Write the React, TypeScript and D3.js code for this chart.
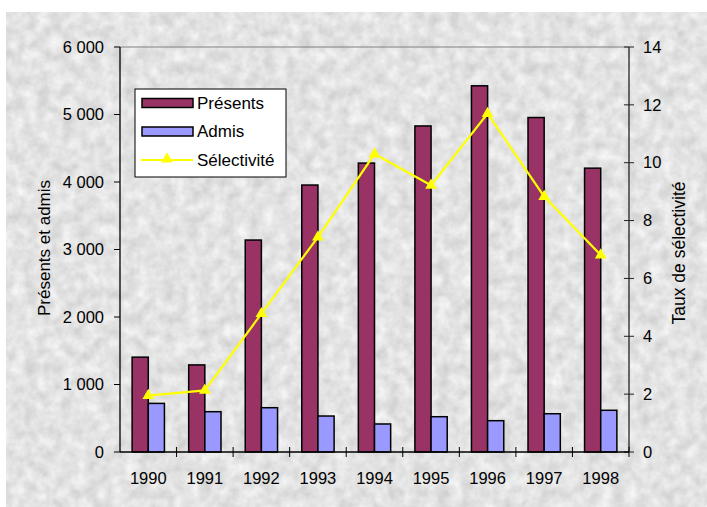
import React from "react";
import * as d3 from "d3";

const years = ["1990", "1991", "1992", "1993", "1994", "1995", "1996", "1997", "1998"];
const presents = [1405, 1290, 3140, 3955, 4280, 4830, 5425, 4955, 4205];
const admis = [720, 597, 656, 533, 415, 523, 464, 567, 618];
const selectivite = [1.95, 2.13, 4.78, 7.43, 10.3, 9.22, 11.7, 8.83, 6.81];
const leftTicks = [0, 1000, 2000, 3000, 4000, 5000, 6000];
const rightTicks = [0, 2, 4, 6, 8, 10, 12, 14];

const W = 707;
const H = 507;
const L = 120;
const R = 629;
const T = 47;
const B = 452;
const FONT = "'Liberation Sans', Arial, sans-serif";
const FS = 16.5;

export default function App() {
  const x = d3.scaleBand<string>().domain(years).range([L, R]).paddingInner(0).paddingOuter(0);
  const y = d3.scaleLinear().domain([0, 6000]).range([B, T]);
  const y2 = d3.scaleLinear().domain([0, 14]).range([B, T]);
  const bw = x.bandwidth();
  const barW = bw / 3.5;
  const off = (bw - 2 * barW) / 2;
  const fmt = (v: number) => d3.format(",")(v).replace(/,/g, " ");
  const line = d3
    .line<number>()
    .x((_, i) => (x(years[i]) as number) + bw / 2)
    .y((d) => y2(d));
  const tri = d3.symbol().type(d3.symbolTriangle).size(60);

  return (
    <svg width={W} height={H} style={{ position: "absolute", left: 0, top: 0 }}>
      <defs>
        <filter id="tex" x="0" y="0" width="100%" height="100%" colorInterpolationFilters="sRGB">
          <feTurbulence type="fractalNoise" baseFrequency="0.08" numOctaves={3} seed={4} />
          <feColorMatrix
            type="matrix"
            values="0.2 0 0 0 0.79  0.2 0 0 0 0.79  0.2 0 0 0 0.79  0 0 0 0 1"
          />
        </filter>
      </defs>
      <rect x={0} y={0} width={W} height={H} fill="#ffffff" />
      <rect x={6} y={12} width={W - 6} height={H - 12} fill="#e0e0e0" filter="url(#tex)" />

      {/* plot top border */}
      <line x1={L} x2={R} y1={T} y2={T} stroke="#808080" strokeWidth={1} />

      {/* bars */}
      {years.map((yr, i) => (
        <g key={yr}>
          <rect
            x={(x(yr) as number) + off}
            y={y(presents[i])}
            width={barW}
            height={B - y(presents[i])}
            fill="#993366"
            stroke="#000"
            strokeWidth={1.5}
          />
          <rect
            x={(x(yr) as number) + off + barW}
            y={y(admis[i])}
            width={barW}
            height={B - y(admis[i])}
            fill="#9999FF"
            stroke="#000"
            strokeWidth={1.5}
          />
        </g>
      ))}

      {/* selectivity line */}
      <path d={line(selectivite) as string} fill="none" stroke="#FFFF00" strokeWidth={2.2} />
      {selectivite.map((v, i) => (
        <path
          key={i}
          d={tri() as string}
          transform={`translate(${(x(years[i]) as number) + bw / 2},${y2(v)})`}
          fill="#FFFF00"
        />
      ))}

      {/* left axis */}
      <line x1={L} x2={L} y1={T} y2={B} stroke="#000" strokeWidth={1.3} />
      {leftTicks.map((t) => (
        <g key={t}>
          <line x1={L - 6} x2={L} y1={y(t)} y2={y(t)} stroke="#000" strokeWidth={1} />
          <text
            x={104}
            y={y(t)}
            dy="0.35em"
            textAnchor="end"
            fontFamily={FONT}
            fontSize={FS}
            fill="#000"
          >
            {fmt(t)}
          </text>
        </g>
      ))}

      {/* right axis */}
      <line x1={R} x2={R} y1={T} y2={B} stroke="#222" strokeWidth={1.3} />
      {rightTicks.map((t) => (
        <g key={t}>
          <line x1={R - 5} x2={R + 5} y1={y2(t)} y2={y2(t)} stroke="#222" strokeWidth={1} />
          <text
            x={R + 14}
            y={y2(t)}
            dy="0.35em"
            textAnchor="start"
            fontFamily={FONT}
            fontSize={FS}
            fill="#000"
          >
            {t}
          </text>
        </g>
      ))}

      {/* x axis */}
      <line x1={L} x2={R} y1={B} y2={B} stroke="#000" strokeWidth={1.3} />
      {years.map((yr, i) => (
        <g key={yr}>
          {i > 0 && (
            <line
              x1={x(yr) as number}
              x2={x(yr) as number}
              y1={B - 5}
              y2={B + 5}
              stroke="#000"
              strokeWidth={1}
            />
          )}
          <text
            x={(x(yr) as number) + bw / 2}
            y={B + 32}
            textAnchor="middle"
            fontFamily={FONT}
            fontSize={FS}
            fill="#000"
          >
            {yr}
          </text>
        </g>
      ))}
      <line x1={R} x2={R} y1={B - 5} y2={B + 5} stroke="#000" strokeWidth={1} />

      {/* axis titles */}
      <text
        transform={`translate(50,248) rotate(-90)`}
        textAnchor="middle"
        fontFamily={FONT}
        fontSize={17}
        fill="#000"
      >
        Présents et admis
      </text>
      <text
        transform={`translate(685,253) rotate(-90)`}
        textAnchor="middle"
        fontFamily={FONT}
        fontSize={17.5}
        fill="#000"
      >
        Taux de sélectivité
      </text>

      {/* legend */}
      <rect x={135} y={89} width={151} height={88} fill="#fff" stroke="#000" strokeWidth={1} />
      <rect x={142} y={98.5} width={51} height={9} fill="#993366" stroke="#000" strokeWidth={1.5} />
      <text x={197} y={103} dy="0.35em" fontFamily={FONT} fontSize={17} fill="#000">
        Présents
      </text>
      <rect x={142} y={127} width={51} height={9} fill="#9999FF" stroke="#000" strokeWidth={1.5} />
      <text x={197} y={131.5} dy="0.35em" fontFamily={FONT} fontSize={17} fill="#000">
        Admis
      </text>
      <line x1={141} x2={193} y1={160} y2={160} stroke="#FFFF00" strokeWidth={2.2} />
      <path d={tri() as string} transform="translate(167,159)" fill="#FFFF00" />
      <text x={197} y={160} dy="0.35em" fontFamily={FONT} fontSize={17} fill="#000">
        Sélectivité
      </text>
    </svg>
  );
}
